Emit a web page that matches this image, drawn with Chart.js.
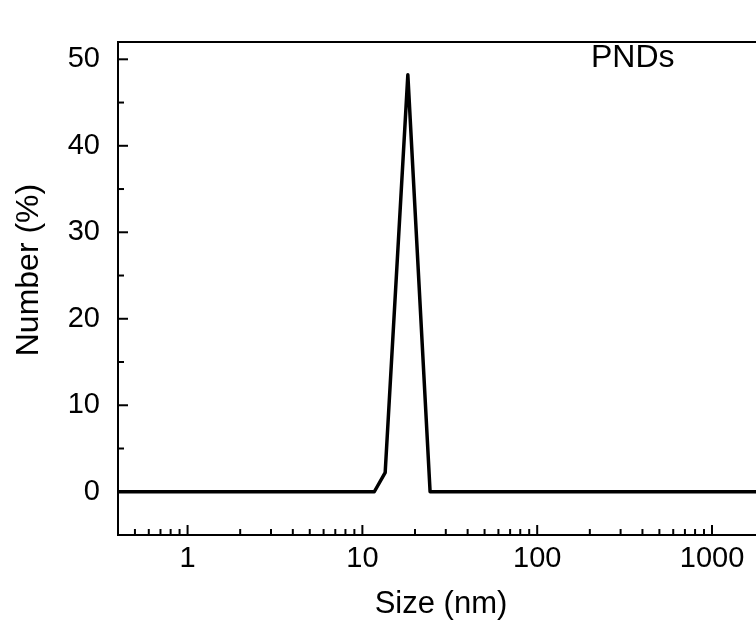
<!DOCTYPE html>
<html>
<head>
<meta charset="utf-8">
<script src="https://cdn.jsdelivr.net/npm/chart.js@4/dist/chart.umd.min.js"></script>
<style>
  html, body { margin: 0; padding: 0; background: #fff; overflow: hidden; }
  #wrap { width: 756px; height: 628px; }
</style>
</head>
<body>
<div id="wrap"><canvas id="sizeChart" width="756" height="628"></canvas></div>
<script>
// --- data ---
const sizes = [0.4, 11.7, 13.5, 18.2, 24.4, 10000];
const numberPct = [0, 0, 2.2, 48.2, 0, 0];
const xTickValues = [1, 10, 100, 1000];
const yTickValues = [0, 10, 20, 30, 40, 50];
const seriesLabel = 'PNDs';
const xTitle = 'Size (nm)';
const yTitle = 'Number (%)';

const FONT = '"Liberation Sans", Arial, sans-serif';

// inward ticks, top frame line and the texts
const framePlugin = {
    id: 'frame',
    afterDraw(chart) {
        const { ctx, chartArea: a, scales } = chart;
        const x = scales.x, y = scales.y;
        ctx.save();
        ctx.strokeStyle = '#000';
        ctx.lineWidth = 2;
        ctx.beginPath();
        ctx.moveTo(a.left - 1, a.top);
        ctx.lineTo(a.right + 2, a.top);
        ctx.stroke();

        // x ticks (major + minor per decade)
        for (let d = -1; d <= 4; d++) {
            for (let m = 1; m <= 9; m++) {
                const v = m * Math.pow(10, d);
                if (v < x.min || v > x.max) continue;
                const px = x.getPixelForValue(v);
                const len = m === 1 ? 10 : 6;
                ctx.beginPath();
                ctx.moveTo(px, a.bottom);
                ctx.lineTo(px, a.bottom - len);
                ctx.stroke();
            }
        }
        // y ticks every 5, major every 10
        for (let v = -5; v <= y.max; v += 5) {
            const py = y.getPixelForValue(v);
            const len = v % 10 === 0 ? 10 : 6;
            ctx.beginPath();
            ctx.moveTo(a.left, py);
            ctx.lineTo(a.left + len, py);
            ctx.stroke();
        }

        ctx.fillStyle = '#000';
        ctx.textBaseline = 'alphabetic';
        ctx.font = '32px ' + FONT;
        ctx.textAlign = 'left';
        ctx.fillText(seriesLabel, 591, 67);

        // axis titles
        ctx.font = '31px ' + FONT;
        ctx.textAlign = 'center';
        ctx.fillText(xTitle, 441, 613);

        ctx.translate(38, 270);
        ctx.rotate(-Math.PI / 2);
        ctx.font = '32px ' + FONT;
        ctx.fillText(yTitle, 0, 0);
        ctx.restore();
    }
};

new Chart(document.getElementById('sizeChart'), {
    type: 'line',
    data: {
        datasets: [{
            label: seriesLabel,
            data: sizes.map((s, i) => ({ x: s, y: numberPct[i] })),
            borderColor: '#000',
            borderWidth: 3.5,
            borderJoinStyle: 'round',
            pointRadius: 0,
            tension: 0
        }]
    },
    options: {
        responsive: false,
        animation: false,
        layout: { padding: { top: 42, right: 0, left: 0, bottom: 0 } },
        plugins: {
            legend: { display: false },
            tooltip: { enabled: false }
        },
        scales: {
            x: {
                type: 'logarithmic',
                min: 0.4,
                max: 1785,
                afterBuildTicks: (s) => { s.ticks = xTickValues.map(v => ({ value: v })); },
                afterFit: (s) => { s.height = 93; },
                grid: { display: false, drawTicks: false },
                border: { display: true, color: '#000', width: 2 },
                ticks: {
                    color: '#000',
                    font: { family: FONT, size: 29 },
                    padding: 7,
                    maxRotation: 0,
                    autoSkip: false,
                    callback: (v) => String(v)
                }
            },
            y: {
                min: -5,
                max: 52,
                afterBuildTicks: (s) => { s.ticks = yTickValues.map(v => ({ value: v })); },
                afterFit: (s) => { s.width = 118; },
                grid: { display: false, drawTicks: false },
                border: { display: true, color: '#000', width: 2 },
                ticks: {
                    color: '#000',
                    font: { family: FONT, size: 29 },
                    padding: 18
                }
            }
        }
    },
    plugins: [framePlugin]
});
</script>
</body>
</html>
